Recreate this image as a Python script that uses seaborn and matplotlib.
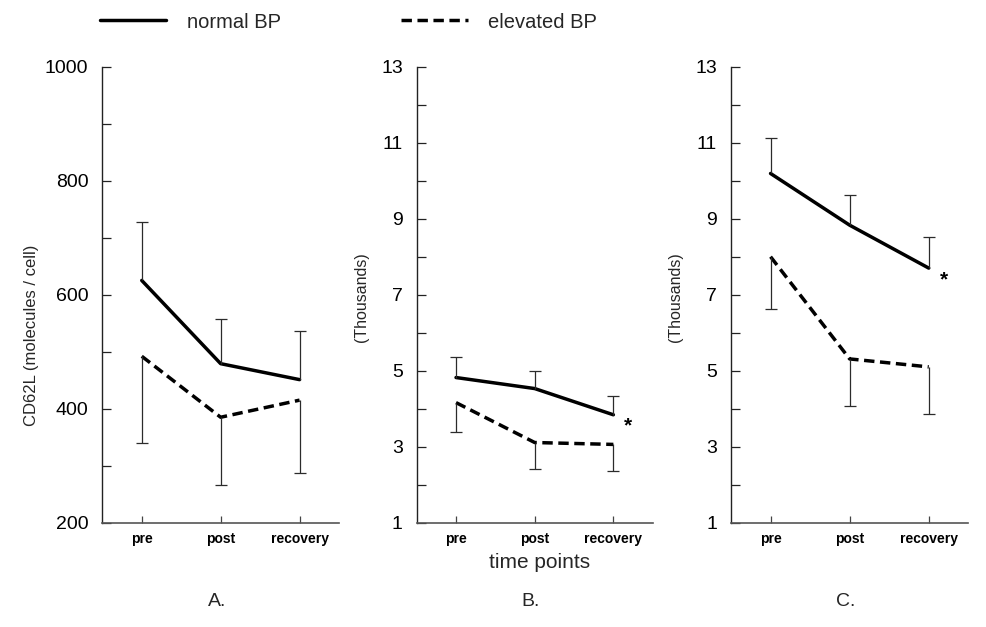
import matplotlib
matplotlib.use("Agg")
import matplotlib.pyplot as plt
from matplotlib.lines import Line2D
from matplotlib.ticker import FixedLocator, MultipleLocator
import numpy as np
import pandas as pd
import seaborn as sns

# ---------------- data ----------------
time_points = ["pre", "post", "recovery"]
groups = ["normal BP", "elevated BP"]

a_normal = [625, 479, 451]
a_normal_upper = [727, 558, 537]
a_elevated = [492, 385, 415]
a_elevated_lower = [340, 267, 288]

b_normal = [4.82, 4.53, 3.84]
b_normal_upper = [5.36, 5.00, 4.33]
b_elevated = [4.16, 3.11, 3.06]
b_elevated_lower = [3.39, 2.41, 2.36]

c_normal = [10.19, 8.83, 7.70]
c_normal_upper = [11.12, 9.62, 8.53]
c_elevated = [8.00, 5.31, 5.10]
c_elevated_lower = [6.62, 4.07, 3.86]

a_yticks = [200, 400, 600, 800, 1000]
bc_yticks = [1, 3, 5, 7, 9, 11, 13]

panel_letters = ["A.", "B.", "C."]
ylabels = ["CD62L (molecules / cell)", "(Thousands)", "(Thousands)"]
star_panels = [False, True, True]
star_y = [None, 3.55, 7.38]

# ---------------- style ----------------
sns.set_theme(style="ticks")
plt.rcParams["font.family"] = ["Liberation Sans", "DejaVu Sans"]

fig = plt.figure(figsize=(9.86, 6.27), dpi=100)

W, H = 986.0, 627.0
axes_px = [(102.3, 339.0), (416.7, 652.7), (731.0, 968.3)]
top_px, bottom_px = 66.7, 522.7

DASH = (3.0, 1.6)
LW = 2.5
ERR_COLOR = "#2b2b2b"

panels = [
    (a_normal, a_normal_upper, a_elevated, a_elevated_lower, a_yticks, (200, 1000), 100),
    (b_normal, b_normal_upper, b_elevated, b_elevated_lower, bc_yticks, (1, 13), 1),
    (c_normal, c_normal_upper, c_elevated, c_elevated_lower, bc_yticks, (1, 13), 1),
]

for i, ((nv, nu, ev, el, yt, ylim, minor), (x0, x1)) in enumerate(zip(panels, axes_px)):
    ax = fig.add_axes([x0 / W, (H - bottom_px) / H, (x1 - x0) / W, (bottom_px - top_px) / H])
    df = pd.DataFrame({
        "time": time_points * 2,
        "value": list(nv) + list(ev),
        "group": [groups[0]] * 3 + [groups[1]] * 3,
    })
    sns.lineplot(data=df, x="time", y="value", style="group",
                 dashes={groups[0]: "", groups[1]: DASH},
                 color="black", linewidth=LW, ax=ax, legend=False,
                 sort=False, errorbar=None)
    xs = np.arange(len(time_points))
    # one-sided error bars
    up_err = np.array(nu) - np.array(nv)
    _, caps_n, _ = ax.errorbar(xs, nv, yerr=[np.zeros(3), up_err], fmt="none",
                               ecolor=ERR_COLOR, elinewidth=0.9, capsize=4, capthick=0.9)
    caps_n[0].set_visible(False)
    lo_err = np.array(ev) - np.array(el)
    _, caps_e, _ = ax.errorbar(xs, ev, yerr=[lo_err, np.zeros(3)], fmt="none",
                               ecolor=ERR_COLOR, elinewidth=0.9, capsize=4, capthick=0.9)
    caps_e[1].set_visible(False)

    ax.set_xlim(-0.5, 2.5)
    ax.set_ylim(*ylim)
    ax.yaxis.set_major_locator(FixedLocator(yt))
    ax.yaxis.set_minor_locator(MultipleLocator(minor))
    ax.set_yticklabels([str(v) for v in yt])
    ax.set_xticks(xs)
    ax.set_xticklabels(time_points)
    ax.set_xlabel("")
    ax.set_ylabel("")
    sns.despine(ax=ax)
    ax.spines["left"].set_color("#222222")
    ax.spines["bottom"].set_color("#555555")
    ax.spines["left"].set_linewidth(1.0)
    ax.spines["bottom"].set_linewidth(1.2)
    ax.tick_params(axis="y", which="both", direction="in", length=6.2, width=0.9,
                   color="#222222", pad=10, labelsize=14, labelcolor="black")
    ax.tick_params(axis="x", which="both", direction="in", length=5, width=0.9,
                   color="#444444", pad=6.5, labelsize=10, labelcolor="black")
    for lab in ax.get_xticklabels():
        lab.set_fontweight("bold")
    ax.set_facecolor("white")

    if star_panels[i]:
        ax.text(2.19, star_y[i], "*", ha="center", va="center", fontsize=15,
                fontweight="bold", color="black")

    cx = (x0 + x1) / 2 / W
    fig.text(cx - 0.004, (H - 602) / H, panel_letters[i], ha="center", va="center", fontsize=14)

# y labels
fig.text(32 / W, (H - 335) / H, ylabels[0], rotation=90, ha="center", va="center", fontsize=12)
fig.text(361 / W, (H - 297) / H, ylabels[1], rotation=90, ha="center", va="center", fontsize=11.5)
fig.text(675 / W, (H - 297) / H, ylabels[2], rotation=90, ha="center", va="center", fontsize=11.5)

# x label
fig.text(540 / W, (H - 563) / H, "time points", ha="center", va="center", fontsize=15)

# legend
handles = [Line2D([], [], color="black", lw=LW, linestyle="-"),
           Line2D([], [], color="black", lw=LW, linestyle=(0, DASH))]
fig.legend(handles, groups, loc="center left", bbox_to_anchor=(100 / W, (H - 22) / H),
           ncol=2, frameon=False, fontsize=14.5, handlelength=3.3, handletextpad=1.0,
           columnspacing=6.0, borderpad=0, borderaxespad=0)

fig.savefig("out.png", dpi=100, facecolor="white")
